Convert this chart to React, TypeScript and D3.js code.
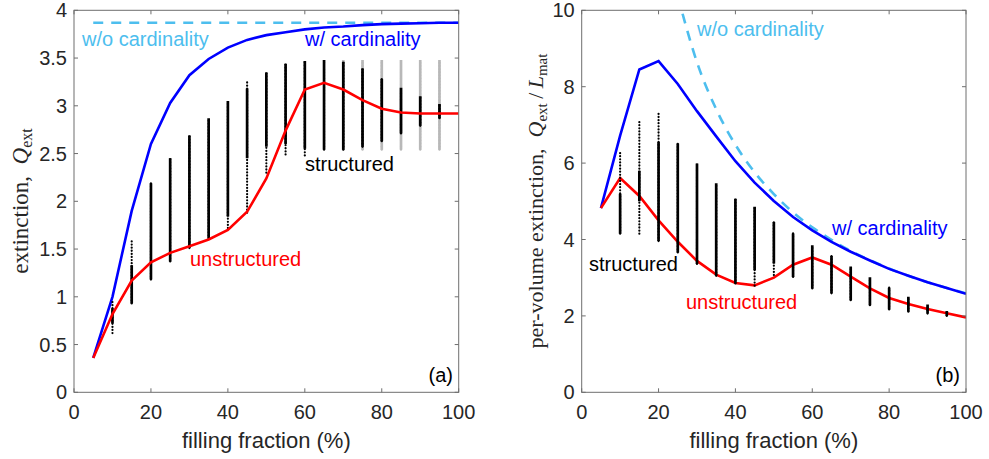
import * as d3 from 'd3';

// filling fraction (%) for the curves
const fraction = [5, 10, 15, 20, 25, 30, 35, 40, 45, 50, 55, 60, 65, 70, 75, 80, 85, 90, 95, 100];

// (a) extinction Q_ext
const extWithCard = [0.36, 1.0, 1.9, 2.6, 3.03, 3.32, 3.49, 3.61, 3.69, 3.74, 3.77, 3.8, 3.82, 3.83, 3.845, 3.855, 3.86, 3.865, 3.87, 3.87];
const extWithoutCard = [3.87, 3.87, 3.87, 3.87, 3.87, 3.87, 3.87, 3.87, 3.87, 3.87, 3.87, 3.87, 3.87, 3.87, 3.87, 3.87, 3.87, 3.87, 3.87, 3.87];
const extUnstructured = [0.36, 0.82, 1.17, 1.36, 1.46, 1.53, 1.6, 1.7, 1.89, 2.24, 2.74, 3.17, 3.24, 3.17, 3.06, 2.97, 2.93, 2.92, 2.92, 2.92];

// (b) per-volume extinction Q_ext / L_mat
const pvWithCard = [4.82, 6.72, 8.45, 8.67, 8.07, 7.36, 6.7, 6.05, 5.49, 5.01, 4.59, 4.24, 3.94, 3.68, 3.45, 3.23, 3.05, 2.88, 2.73, 2.58];
const pvUnstructured = [4.82, 5.61, 5.14, 4.5, 3.94, 3.44, 3.08, 2.86, 2.8, 3.0, 3.34, 3.53, 3.34, 3.03, 2.72, 2.47, 2.31, 2.18, 2.07, 1.96];
const pvFractionNoCard = [25, 30, 35, 40, 45, 50, 55, 60, 65, 70, 75, 80, 85, 90, 95, 100];
const pvWithoutCard = [10.37, 8.64, 7.41, 6.48, 5.76, 5.19, 4.71, 4.32, 3.99, 3.7, 3.46, 3.24, 3.05, 2.88, 2.73, 2.59];

// structured samples: spread of values at each filling fraction
const barFraction = [10, 15, 20, 25, 30, 35, 40, 45, 50, 55, 60, 65, 70, 75, 80, 85, 90, 95];
const extLo = [0.62, 0.93, 1.18, 1.37, 1.51, 1.61, 1.72, 1.88, 2.3, 2.49, 2.48, 2.54, 2.54, 2.57, 2.63, 2.71, 2.79, 2.87];
const extHi = [0.95, 1.6, 2.19, 2.45, 2.69, 2.87, 3.05, 3.27, 3.35, 3.44, 3.47, 3.48, 3.46, 3.39, 3.28, 3.19, 3.1, 3.02];
const extDenseLo = [0.72, 0.93, 1.18, 1.37, 1.51, 1.61, 1.84, 2.45, 2.57, 2.6, 2.55, 2.54, 2.54, 2.57, 2.63, 2.71, 2.79, 2.87];
const extDenseHi = [0.88, 1.33, 2.19, 2.45, 2.69, 2.87, 3.05, 3.18, 3.35, 3.44, 3.47, 3.48, 3.46, 3.39, 3.28, 3.19, 3.1, 3.02];
const grayFraction = [70, 75, 80, 85, 90, 95];
const grayLo = [2.54, 2.54, 2.54, 2.54, 2.54, 2.54];
const grayHi = [3.48, 3.48, 3.48, 3.48, 3.48, 3.48];

const pvLo = [4.15, 4.15, 3.96, 3.66, 3.36, 3.05, 2.85, 2.79, 3.07, 3.02, 2.72, 2.59, 2.41, 2.28, 2.17, 2.11, 2.06, 2.0];
const pvHi = [6.29, 7.12, 7.3, 6.51, 5.99, 5.47, 5.07, 4.86, 4.46, 4.16, 3.85, 3.57, 3.29, 3.01, 2.74, 2.5, 2.3, 2.13];
const pvDenseLo = [4.15, 5.0, 3.96, 3.66, 3.36, 3.05, 2.85, 3.2, 3.37, 3.02, 2.72, 2.59, 2.41, 2.28, 2.17, 2.11, 2.06, 2.0];
const pvDenseHi = [5.2, 5.8, 6.55, 6.51, 5.99, 5.47, 5.07, 4.86, 4.46, 4.16, 3.85, 3.57, 3.29, 3.01, 2.74, 2.5, 2.3, 2.13];

const xTicks = [0, 20, 40, 60, 80, 100];
const extTicks = [0, 0.5, 1, 1.5, 2, 2.5, 3, 3.5, 4];
const pvTicks = [0, 2, 4, 6, 8, 10];

const SANS = "'Liberation Sans', Arial, Helvetica, sans-serif";
const SERIF = "'Liberation Serif', 'Times New Roman', serif";
const INK = '#262626';
const BLUE = '#0000ff';
const RED = '#ff0000';
const CYAN = '#4dbeee';

function Bars({ x, y, xs, lo, hi, dLo, dHi, color }) {
  return (
    <g>
      {xs.map((f, i) => (
        <g key={f}>
          <line x1={x(f)} x2={x(f)} y1={y(lo[i])} y2={y(hi[i])} stroke={color} strokeWidth={2.2}
            strokeLinecap="round" strokeDasharray="0.1 3" />
          <line x1={x(f)} x2={x(f)} y1={y(dLo[i])} y2={y(dHi[i])} stroke={color} strokeWidth={2.7} />
        </g>
      ))}
    </g>
  );
}

function Frame({ id, x, y, yTicks, children }) {
  const [x0, x1] = x.range();
  const [y0, y1] = y.range();
  const t = 4;
  return (
    <g>
      <clipPath id={id}>
        <rect x={x0} y={y1} width={x1 - x0} height={y0 - y1} />
      </clipPath>
      <g clipPath={`url(#${id})`}>{children}</g>
      <rect x={x0} y={y1} width={x1 - x0} height={y0 - y1} fill="none" stroke="#6e6e6e" strokeWidth={1} />
      {xTicks.map((v) => (
        <g key={'x' + v}>
          <line x1={x(v)} x2={x(v)} y1={y0} y2={y0 - t} stroke="#6e6e6e" />
          <line x1={x(v)} x2={x(v)} y1={y1} y2={y1 + t} stroke="#6e6e6e" />
          <text x={x(v)} y={y0 + 27} textAnchor="middle" fontSize={20} fontFamily={SANS} fill={INK}>{v}</text>
        </g>
      ))}
      {yTicks.map((v) => (
        <g key={'y' + v}>
          <line x1={x0} x2={x0 + t} y1={y(v)} y2={y(v)} stroke="#6e6e6e" />
          <line x1={x1} x2={x1 - t} y1={y(v)} y2={y(v)} stroke="#6e6e6e" />
          <text x={x0 - 7} y={y(v) + 7} textAnchor="end" fontSize={20} fontFamily={SANS} fill={INK}>{v}</text>
        </g>
      ))}
      <text x={(x0 + x1) / 2} y={y0 + 56} textAnchor="middle" fontSize={22} fontFamily={SANS} fill={INK}>filling fraction (%)</text>
    </g>
  );
}

export default function App() {
  // panel (a)
  const xa = d3.scaleLinear().domain([0, 100]).range([74, 458.7]);
  const ya = d3.scaleLinear().domain([0, 4]).range([392.3, 10.3]);
  // panel (b)
  const xb = d3.scaleLinear().domain([0, 100]).range([581.7, 966]);
  const yb = d3.scaleLinear().domain([0, 10]).range([392.3, 10.3]);

  const lineA = d3.line<number>().x((_, i) => xa(fraction[i])).y((d) => ya(d));
  const lineB = d3.line<number>().x((_, i) => xb(fraction[i])).y((d) => yb(d));
  const lineBNoCard = d3
    .line<number>()
    .x((_, i) => xb(pvFractionNoCard[i]))
    .y((d) => yb(d))
    .curve(d3.curveMonotoneX);

  return (
    <svg width={989} height={459} style={{ position: 'absolute', left: 0, top: 0, background: '#fff' }}>
      {/* (a) */}
      <Frame id="clipA" x={xa} y={ya} yTicks={extTicks}>
        <path d={lineA(extWithoutCard)} fill="none" stroke={CYAN} strokeWidth={2.6} strokeDasharray="10 8" />
        <path d={lineA(extWithCard)} fill="none" stroke={BLUE} strokeWidth={2.6} />
        <Bars x={xa} y={ya} xs={grayFraction} lo={grayLo} hi={grayHi} dLo={grayLo} dHi={grayHi} color="#b8b8b8" />
        <Bars x={xa} y={ya} xs={barFraction} lo={extLo} hi={extHi} dLo={extDenseLo} dHi={extDenseHi} color="#000" />
        <path d={lineA(extUnstructured)} fill="none" stroke={RED} strokeWidth={2.6} />
      </Frame>
      <g fontFamily={SANS} fontSize={20}>
        <text x={82} y={46} fill={CYAN}>w/o cardinality</text>
        <text x={305} y={46} fill={BLUE}>w/ cardinality</text>
        <text x={305} y={171} fill="#000">structured</text>
        <text x={190} y={266} fill={RED}>unstructured</text>
        <text x={453} y={382} textAnchor="end" fill="#000">(a)</text>
      </g>
      <text transform="translate(28,201) rotate(-90)" textAnchor="middle" fontFamily={SERIF} fontSize={23} fill={INK}>
        extinction,{'\u2002'}
        <tspan fontStyle="italic">Q</tspan>
        <tspan fontSize={16} dy={4}>ext</tspan>
      </text>

      {/* (b) */}
      <Frame id="clipB" x={xb} y={yb} yTicks={pvTicks}>
        <path d={lineBNoCard(pvWithoutCard)} fill="none" stroke={CYAN} strokeWidth={2.6} strokeDasharray="10 8" />
        <path d={lineB(pvWithCard)} fill="none" stroke={BLUE} strokeWidth={2.6} />
        <path d={lineB(pvUnstructured)} fill="none" stroke={RED} strokeWidth={2.6} />
        <Bars x={xb} y={yb} xs={barFraction} lo={pvLo} hi={pvHi} dLo={pvDenseLo} dHi={pvDenseHi} color="#000" />
      </Frame>
      <g fontFamily={SANS} fontSize={20}>
        <text x={697} y={36} fill={CYAN}>w/o cardinality</text>
        <text x={832} y={235} fill={BLUE}>w/ cardinality</text>
        <text x={589} y={271} fill="#000">structured</text>
        <text x={686} y={309} fill={RED}>unstructured</text>
        <text x={960} y={382} textAnchor="end" fill="#000">(b)</text>
      </g>
      <text transform="translate(543,201) rotate(-90)" textAnchor="middle" fontFamily={SERIF} fontSize={22} fill={INK}>
        per-volume extinction,{'\u2002'}
        <tspan fontStyle="italic">Q</tspan>
        <tspan fontSize={15} dy={4}>ext</tspan>
        <tspan dy={-4}>{'\u2009'}/{'\u2009'}</tspan>
        <tspan fontStyle="italic">L</tspan>
        <tspan fontSize={15} dy={4}>mat</tspan>
      </text>
    </svg>
  );
}
